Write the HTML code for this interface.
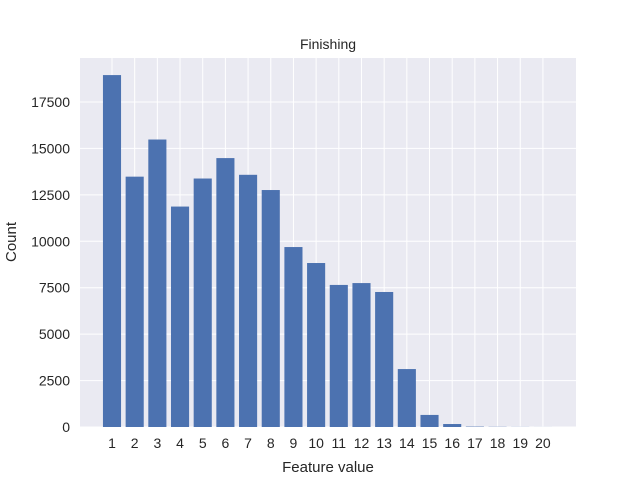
<!DOCTYPE html>
<html><head><meta charset="utf-8"><style>
body{margin:0;background:#fff;font-family:"Liberation Sans","DejaVu Sans",sans-serif}
</style></head><body>
<svg width="640" height="480" xmlns="http://www.w3.org/2000/svg">
<rect x="80" y="58" width="496" height="369" fill="#eaeaf2"/>
<g id="grid"></g><g id="bars"></g><g id="ticks"></g>
<text x="328" y="49" text-anchor="middle" font-size="14" fill="#262626">Finishing</text>
<text x="328" y="472" text-anchor="middle" font-size="15" fill="#262626">Feature value</text>
<text x="16" y="242" text-anchor="middle" font-size="15" fill="#262626" transform="rotate(-90 16 242)">Count</text>
</svg>
<script>
const categories=[1,2,3,4,5,6,7,8,9,10,11,12,13,14,15,16,17,18,19,20];
const counts=[18950,13480,15480,11870,13380,14480,13580,12760,9690,8830,7650,7750,7270,3120,650,160,20,10,5,2];
const yTicks=[0,2500,5000,7500,10000,12500,15000,17500];
const NS="http://www.w3.org/2000/svg";
function xs(v){return 112+(v-1)*22.68;}
function ys(v){return 427-v*0.018571;}
const grid=document.getElementById('grid'),bars=document.getElementById('bars'),ticks=document.getElementById('ticks');
function mk(tag,attrs,parent){const e=document.createElementNS(NS,tag);for(const k in attrs)e.setAttribute(k,attrs[k]);parent.appendChild(e);return e;}
yTicks.forEach(t=>{
  const l=mk('line',{x1:80,x2:576,y1:ys(t),y2:ys(t),stroke:'#fff','stroke-width':1},grid);
  
  
  const tx=mk('text',{x:70,y:ys(t)+5,'text-anchor':'end','font-size':14,fill:'#262626'},ticks);
  tx.textContent=t;
  
  
});
categories.forEach((c,i)=>{
  const l=mk('line',{x1:xs(c),x2:xs(c),y1:58,y2:427,stroke:'#fff','stroke-width':1},grid);
  
  
  const w=18.1;
  const r=mk('rect',{x:xs(c)-w/2,y:ys(counts[i]),width:w,height:427-ys(counts[i]),fill:'#4c72b0'},bars);
  
  
  const tx=mk('text',{x:xs(c),y:448,'text-anchor':'middle','font-size':14,fill:'#262626'},ticks);
  tx.textContent=c;
  
  
});
</script>
</body></html>
